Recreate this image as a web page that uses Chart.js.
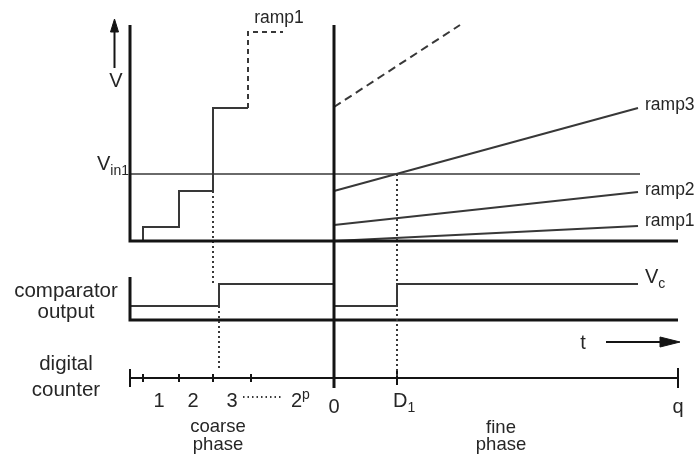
<!DOCTYPE html>
<html lang="en">
<head>
    <meta charset="UTF-8">
    <title>Two-step ramp ADC timing</title>
    <script src="https://cdn.jsdelivr.net/npm/chart.js"></script>
    <style>
        body { margin: 0; background: #fff; }
        #wrap { width: 697px; height: 461px; }
    </style>
</head>
<body>
    <div id="wrap"><canvas id="diagram"></canvas></div>

    <script>
        // x = time (0 = start of fine phase), y = voltage (0 = baseline of the top panel)
        var stepTimes = [-191, -155, -121, -86];   // counter steps in coarse phase
        var stepLevels = [14, 50, 133, 209];       // staircase after each step
        var stepEnd = -51;
        var vin1 = 67;
        var startTime = -204;
        var endTime = 344;
        var fineEnd = 304;
        var rampStart = [0, 16, 50];               // ramp1, ramp2, ramp3
        var rampEnd = [15, 49, 133];
        var dashedRamp = [[0, 134], [126, 216]];
        var d1 = 63;
        var coarseCross = -115;
        var compLevels = [-65, -43];               // comparator low / high
        var compBase = -79;
        var counterY = -137;
        var counterTicks = [-191, -155, -121, -83];
        var topY = 216;

        var AXIS = '#141414', LINE = '#383838', TEXT = '#262626';

        function pts(arr) { return arr.map(function (p) { return { x: p[0], y: p[1] }; }); }
        function seg(arr, width, color, dash) {
            return { data: pts(arr), borderColor: color, borderWidth: width, borderDash: dash || [],
                     pointRadius: 0, showLine: true, fill: false, tension: 0 };
        }

        var s = stepTimes, l = stepLevels;
        var datasets = [
            // top panel
            seg([[startTime, topY], [startTime, 0], [endTime, 0]], 3, AXIS),
            seg([[0, topY], [0, -147]], 3, AXIS),
            seg([[startTime, vin1], [fineEnd + 2, vin1]], 1.6, LINE),
            seg([[s[0], 0], [s[0], l[0]], [s[1], l[0]], [s[1], l[1]], [s[2], l[1]], [s[2], l[2]], [s[3], l[2]]], 2, LINE),
            seg([[s[3], l[2]], [s[3], l[3]], [stepEnd, l[3]]], 2, LINE, [5, 4]),
            seg(dashedRamp, 2, LINE, [8, 5]),
            seg([[0, rampStart[2]], [fineEnd, rampEnd[2]]], 2, LINE),
            seg([[0, rampStart[1]], [fineEnd, rampEnd[1]]], 2, LINE),
            seg([[0, rampStart[0]], [fineEnd, rampEnd[0]]], 2, LINE),
            // dotted markers
            seg([[s[2], l[1]], [s[2], compLevels[1]]], 2, LINE, [2, 3]),
            seg([[coarseCross, compLevels[0]], [coarseCross, counterY + 8]], 2, LINE, [2, 3]),
            seg([[d1, vin1], [d1, counterY]], 2, LINE, [2, 3]),
            // comparator panel
            seg([[startTime, -36], [startTime, compBase], [endTime, compBase]], 3, AXIS),
            seg([[startTime, compLevels[0]], [coarseCross, compLevels[0]], [coarseCross, compLevels[1]], [0, compLevels[1]]], 2, LINE),
            seg([[0, compLevels[0]], [d1, compLevels[0]], [d1, compLevels[1]], [fineEnd, compLevels[1]]], 2, LINE),
            // t arrow and V arrow
            seg([[272, -101], [334, -101]], 2, AXIS),
            { data: pts([[326, -96], [346, -101], [326, -106], [326, -96]]), borderColor: AXIS, backgroundColor: AXIS,
              borderWidth: 1, pointRadius: 0, showLine: true, fill: 'shape', tension: 0 },
            seg([[-219.5, 173], [-219.5, 212]], 2, AXIS),
            { data: pts([[-223.5, 209], [-219.5, 222], [-215.5, 209], [-223.5, 209]]), borderColor: AXIS, backgroundColor: AXIS,
              borderWidth: 1, pointRadius: 0, showLine: true, fill: 'shape', tension: 0 },
            // digital counter
            seg([[startTime, counterY], [endTime, counterY]], 2, AXIS),
            { data: pts(counterTicks.map(function (t) { return [t, counterY]; })
                    .concat([[startTime, counterY], [d1, counterY], [endTime, counterY]])),
              showLine: false, pointStyle: 'line', rotation: 90,
              pointRadius: [4, 4, 4, 4, 9, 7, 10], borderColor: AXIS, borderWidth: 2 },
            seg([[-91, -156], [-52, -156]], 1.8, LINE, [1.5, 3])
        ];

        // text labels in diagram coordinates (baseline)
        var labels = [
            { t: 'ramp1', x: -55, y: 218, size: 17.5, align: 'center' },
            { t: 'V', x: -218, y: 154, size: 20, align: 'center' },
            { t: 'V', sub: 'in1', x: -237, y: 71, size: 20, align: 'left' },
            { t: 'ramp3', x: 311, y: 131, size: 17.5, align: 'left' },
            { t: 'ramp2', x: 311, y: 46, size: 17.5, align: 'left' },
            { t: 'ramp1', x: 311, y: 15, size: 17.5, align: 'left' },
            { t: 'comparator', x: -268, y: -56, size: 20.5, align: 'center' },
            { t: 'output', x: -268, y: -77, size: 20.5, align: 'center' },
            { t: 'V', sub: 'c', x: 311, y: -42, size: 20, align: 'left' },
            { t: 't', x: 249, y: -108, size: 20, align: 'center' },
            { t: 'digital', x: -268, y: -129, size: 20.5, align: 'center' },
            { t: 'counter', x: -268, y: -155, size: 20.5, align: 'center' },
            { t: '1', x: -175, y: -166, size: 20, align: 'center' },
            { t: '2', x: -141, y: -166, size: 20, align: 'center' },
            { t: '3', x: -102, y: -166, size: 20, align: 'center' },
            { t: '2', sup: 'p', x: -43, y: -166, size: 20, align: 'left' },
            { t: '0', x: 0, y: -172, size: 20, align: 'center' },
            { t: 'D', sub: '1', x: 59, y: -166, size: 20, align: 'left' },
            { t: 'q', x: 344, y: -172, size: 20, align: 'center' },
            { t: 'coarse', x: -116, y: -191, size: 18.5, align: 'center' },
            { t: 'phase', x: -116, y: -209, size: 18.5, align: 'center' },
            { t: 'fine', x: 167, y: -192, size: 18.5, align: 'center' },
            { t: 'phase', x: 167, y: -209, size: 18.5, align: 'center' }
        ];

        var FONT = '"Liberation Sans", Arial, sans-serif';
        var textPlugin = {
            id: 'diagramText',
            afterDatasetsDraw: function (chart) {
                var ctx = chart.ctx, xs = chart.scales.x, ys = chart.scales.y;
                ctx.save();
                ctx.fillStyle = TEXT;
                ctx.textBaseline = 'alphabetic';
                ctx.textAlign = 'left';
                labels.forEach(function (lb) {
                    var px = xs.getPixelForValue(lb.x), py = ys.getPixelForValue(lb.y);
                    var small = Math.round(lb.size * 0.7);
                    ctx.font = lb.size + 'px ' + FONT;
                    var w = ctx.measureText(lb.t).width;
                    var extra = lb.sub || lb.sup || '';
                    ctx.font = small + 'px ' + FONT;
                    var w2 = extra ? ctx.measureText(extra).width : 0;
                    var x0 = lb.align === 'center' ? px - (w + w2) / 2 : px;
                    ctx.font = lb.size + 'px ' + FONT;
                    ctx.fillText(lb.t, x0, py);
                    if (extra) {
                        ctx.font = small + 'px ' + FONT;
                        var dy = lb.sub ? 5 : -8;
                        ctx.fillText(extra, x0 + w, py + dy);
                    }
                });
                ctx.restore();
            }
        };

        new Chart(document.getElementById('diagram').getContext('2d'), {
            type: 'scatter',
            data: { datasets: datasets },
            options: {
                responsive: true,
                maintainAspectRatio: false,
                animation: false,
                devicePixelRatio: 1,
                layout: { padding: 0, autoPadding: false },
                scales: {
                    x: { type: 'linear', min: -334, max: 363, display: false },
                    y: { type: 'linear', min: -220, max: 241, display: false }
                },
                plugins: { legend: { display: false }, tooltip: { enabled: false } },
                events: []
            },
            plugins: [textPlugin]
        });
    </script>
</body>
</html>
